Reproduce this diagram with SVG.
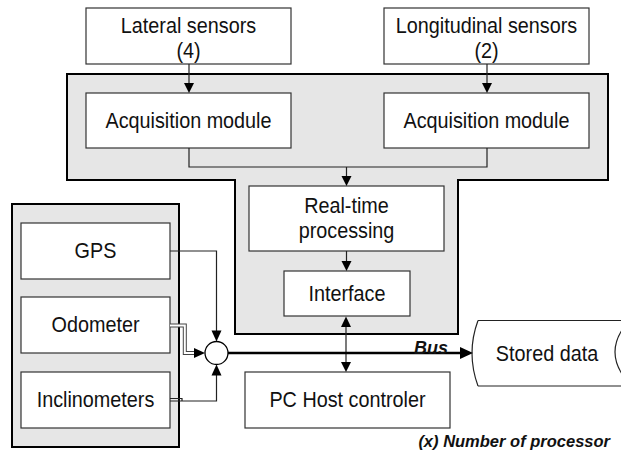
<svg xmlns="http://www.w3.org/2000/svg" width="621" height="457" viewBox="0 0 621 457">
<style>
  .bg{fill:#ffffff}
  .cont{fill:#e6e6e6;stroke:#000;stroke-width:2}
  .box{fill:#fff;stroke:#333;stroke-width:1.2}
  .t{font-family:"Liberation Sans",Arial,sans-serif;font-size:19.8px;fill:#111;text-anchor:middle;transform-box:fill-box;transform-origin:center;transform:scaleY(1.1)}
  .it{font-family:"Liberation Sans",Arial,sans-serif;font-weight:bold;font-style:italic;fill:#111}
  .ln{fill:none;stroke:#222;stroke-width:1.2}
  .bus{fill:none;stroke:#000;stroke-width:2.6}
  .ah{fill:#000}
</style>
<rect class="bg" x="0" y="0" width="621" height="457"/>
<g id="acq-system">
  <path class="cont" d="M67,74 H608 V180 H458 V334 H235 V180 H67 Z"/>
</g>
<g id="nav-sensors">
  <rect class="cont" x="12" y="204" width="167" height="243"/>
</g>
<g id="lateral-sensors">
  <rect class="box" x="86" y="8" width="205" height="56"/>
  <text class="t" x="188.5" y="32">Lateral sensors</text>
  <text class="t" x="188.5" y="57">(4)</text>
</g>
<g id="longitudinal-sensors">
  <rect class="box" x="384" y="8" width="205" height="56"/>
  <text class="t" x="486.5" y="32">Longitudinal sensors</text>
  <text class="t" x="486.5" y="57">(2)</text>
</g>
<g id="acq-module-left">
  <rect class="box" x="86" y="93" width="205" height="55"/>
  <text class="t" x="188.5" y="127">Acquisition module</text>
</g>
<g id="acq-module-right">
  <rect class="box" x="384" y="93" width="205" height="55"/>
  <text class="t" x="486.5" y="127">Acquisition module</text>
</g>
<g id="real-time">
  <rect class="box" x="249" y="186" width="195" height="65"/>
  <text class="t" x="346.5" y="212">Real-time</text>
  <text class="t" x="346.5" y="237">processing</text>
</g>
<g id="interface">
  <rect class="box" x="284" y="271" width="126" height="45"/>
  <text class="t" x="347" y="300">Interface</text>
</g>
<g id="gps">
  <rect class="box" x="21" y="223" width="149" height="56"/>
  <text class="t" x="95.5" y="257.5">GPS</text>
</g>
<g id="odometer">
  <rect class="box" x="21" y="297" width="149" height="56"/>
  <text class="t" x="95.5" y="331.5">Odometer</text>
</g>
<g id="inclinometers">
  <rect class="box" x="21" y="372" width="149" height="56"/>
  <text class="t" x="95.5" y="406.5">Inclinometers</text>
</g>
<g id="junction">
  <circle cx="216.5" cy="353" r="11.5" fill="#fff" stroke="#000" stroke-width="1.3"/>
</g>
<g id="pc-host">
  <rect class="box" x="245" y="372" width="205" height="56"/>
  <text class="t" x="347.5" y="406.5">PC Host controler</text>
</g>
<g id="stored-data">
  <path fill="#fff" stroke="#222" stroke-width="1.2" d="M478,320.5 H621 M478,386 H621 M478,320.5 Q466,353 478,386"/>
  <path fill="none" stroke="#222" stroke-width="1.2" d="M622,330 Q608,352 622,374"/>
  <text class="t" x="547" y="360">Stored data</text>
</g>
<g id="connectors">
  <path class="ln" d="M189,64 V84"/>
  <path class="ah" d="M184,83 L194,83 L189,93 Z"/>
  <path class="ln" d="M487,64 V84"/>
  <path class="ah" d="M482,83 L492,83 L487,93 Z"/>
  <path class="ln" d="M189,148 V167 H487 V148 M346.5,167 V177"/>
  <path class="ah" d="M341.5,176 L351.5,176 L346.5,186 Z"/>
  <path class="ln" d="M346.5,251 V262"/>
  <path class="ah" d="M341.5,261 L351.5,261 L346.5,271 Z"/>
  <path class="ln" d="M346,326 V363"/>
  <path class="ah" d="M341,327 L351,327 L346,316.5 Z"/>
  <path class="ah" d="M341,362 L351,362 L346,372 Z"/>
  <path class="ln" d="M170,251 H216.5 V332"/>
  <path class="ah" d="M211.5,330.5 L221.5,330.5 L216.5,341.5 Z"/>
  <path fill="none" stroke="#444" stroke-width="4" d="M170,325.5 H184.8 V353 H195"/>
  <path fill="none" stroke="#fff" stroke-width="2" d="M170,325.5 H184.8 V353 H195"/>
  <path class="ah" d="M194,348 L194,358 L205,353 Z"/>
  <path class="ln" d="M170,398.5 H182 V401 H216.5 V375 M170,401 H182"/>
  <path class="ah" d="M211.5,375.5 L221.5,375.5 L216.5,364.5 Z"/>
  <path class="bus" d="M228,353 H462"/>
  <path class="ah" d="M460,347 L460,359 L473,353 Z"/>
</g>
<text class="it" x="414" y="354" font-size="18">Bus</text>
<text class="it" x="610" y="447" font-size="16.5" text-anchor="end">(x) Number of processor</text>
</svg>
